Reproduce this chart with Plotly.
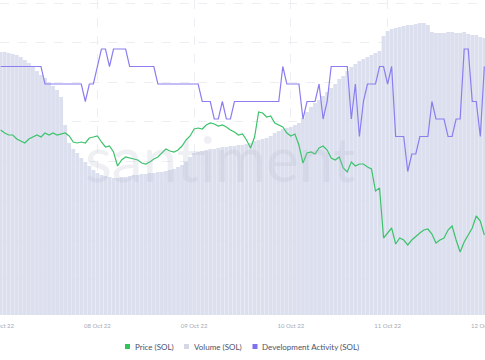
import pandas as pd
import plotly.graph_objects as go

# hourly timestamps, 07 Oct 2022 00:00 -> 12 Oct 2022 00:00
times = pd.date_range("2022-10-07 00:00", periods=121, freq="h")

price = [
    33.40, 33.34, 33.30, 33.30, 33.22, 33.18, 33.14, 33.22, 33.26, 33.30,
    33.26, 33.34, 33.30, 33.34, 33.30, 33.32, 33.34, 33.28, 33.16, 33.14,
    33.16, 33.14, 33.24, 33.26, 33.28, 33.16, 33.06, 33.08, 32.96, 32.68,
    32.80, 32.86, 32.84, 32.82, 32.80, 32.74, 32.72, 32.76, 32.82, 32.86,
    32.94, 33.02, 32.98, 32.96, 33.00, 33.08, 33.20, 33.28, 33.42, 33.44,
    33.42, 33.50, 33.54, 33.52, 33.48, 33.50, 33.46, 33.40, 33.36, 33.30,
    33.32, 33.20, 33.04, 33.26, 33.76, 33.74, 33.66, 33.68, 33.54, 33.50,
    33.46, 33.34, 33.28, 33.32, 33.10, 32.74, 32.94, 32.96, 32.92, 33.04,
    33.08, 33.00, 32.84, 32.80, 32.86, 32.64, 32.56, 32.76, 32.68, 32.72,
    32.72, 32.66, 32.62, 32.18, 32.24, 31.24, 31.34, 31.44, 31.12, 31.24,
    31.20, 31.10, 31.20, 31.28, 31.34, 31.40, 31.42, 31.32, 31.14, 31.20,
    31.24, 31.40, 31.48, 31.20, 30.96, 31.16, 31.30, 31.44, 31.68, 31.58,
    31.30,
]

volume = [
    789, 789, 786, 783, 780, 774, 765, 756, 744, 732,
    720, 711, 699, 687, 675, 654, 570, 516, 498, 486,
    471, 459, 447, 435, 426, 420, 417, 414, 411, 411,
    414, 414, 417, 420, 420, 423, 423, 426, 426, 429,
    429, 432, 435, 438, 444, 450, 459, 474, 486, 489,
    492, 495, 498, 498, 501, 504, 504, 507, 507, 510,
    510, 513, 516, 522, 525, 528, 531, 537, 546, 552,
    558, 561, 564, 570, 576, 591, 609, 624, 636, 645,
    657, 669, 681, 693, 708, 717, 732, 744, 753, 762,
    768, 774, 780, 786, 792, 837, 852, 858, 861, 864,
    867, 870, 870, 873, 876, 876, 870, 849, 846, 846,
    846, 849, 849, 846, 846, 849, 843, 840, 840, 834,
    831,
]

dev_activity = [
    26, 26, 26, 26, 26, 26, 26, 26, 26, 26,
    26, 25, 25, 25, 25, 25, 25, 25, 25, 25,
    25, 24, 25, 25, 26, 27, 27, 26, 27, 27,
    27, 27, 26, 26, 26, 26, 26, 26, 26, 25,
    25, 25, 25, 25, 25, 25, 25, 25, 25, 25,
    24, 24, 24, 23, 23, 24, 23, 23, 24, 24,
    24, 24, 24, 24, 24, 24, 24, 24, 24, 24,
    26, 25, 25, 25, 25, 23, 24, 24, 24, 25,
    23, 24, 26, 26, 26, 26, 26, 23, 25, 22,
    24, 25, 25, 25, 26, 26, 25, 26, 22, 22,
    22, 20, 21, 21, 22, 22, 22, 24, 23, 23,
    23, 22, 22, 23, 23, 27, 27, 24, 24, 22,
    26,
]

legend_labels = ["Price (SOL)", "Volume (SOL)", "Development Activity (SOL)"]

GREEN = "#3cc36b"
VOL = "#dcdfee"
PURPLE = "#8a7ef0"
LEG_COLORS = ["#33c35d", "#d6d8e6", "#7f70f0"]

W, H, PLOT_H = 485, 360, 315

fig = go.Figure()
fig.add_trace(go.Bar(x=times, y=volume, marker=dict(color=VOL, line=dict(width=0)),
                     yaxis="y", showlegend=False, hoverinfo="skip", name=legend_labels[1]))
fig.add_trace(go.Scatter(x=times, y=price, mode="lines", line=dict(color=GREEN, width=1.2),
                         yaxis="y2", showlegend=False, name=legend_labels[0]))
fig.add_trace(go.Scatter(x=times, y=dev_activity, mode="lines", line=dict(color=PURPLE, width=1.2),
                         yaxis="y3", showlegend=False, name=legend_labels[2]))

# manual compact legend (square swatch + label)
sw_x = [125, 184, 252.5]
txt_x = [132.5, 191.5, 259.5]
for lab, col, sx, tx in zip(legend_labels, LEG_COLORS, sw_x, txt_x):
    fig.add_shape(type="rect", xref="paper", yref="paper",
                  x0=sx / W, x1=(sx + 5) / W,
                  y0=(PLOT_H - 349) / PLOT_H, y1=(PLOT_H - 344) / PLOT_H,
                  fillcolor=col, line=dict(width=0))
    fig.add_annotation(text=lab, x=tx / W, y=(PLOT_H - 346.5) / PLOT_H, xref="paper", yref="paper",
                       xanchor="left", yanchor="middle", showarrow=False,
                       font=dict(family="Lato", size=8, color="#4d5268"))

fig.add_annotation(text="santiment", x=220 / W, y=(PLOT_H - 158) / PLOT_H, xref="paper", yref="paper",
                   showarrow=False, font=dict(family="Lato", size=62, color="rgba(175,180,198,0.2)"))

fig.update_layout(
    width=W, height=H,
    margin=dict(l=0, r=0, t=0, b=H - PLOT_H, autoexpand=False),
    paper_bgcolor="white", plot_bgcolor="white",
    bargap=0.05,
    showlegend=False,
    xaxis=dict(range=["2022-10-06 23:50", "2022-10-12 00:10"], tickformat="%d %b %y",
               dtick=86400000, tick0="2022-10-07", showgrid=True, gridcolor="#eceef3",
               griddash="dash", gridwidth=1, zeroline=False, showline=False,
               ticks="outside", ticklen=5, tickcolor="rgba(0,0,0,0)",
               ticklabeloverflow="allow", automargin=False,
               tickfont=dict(family="Lato", size=6, color="#a5a9b8")),
    yaxis=dict(range=[0, 945], visible=True, showticklabels=False, showgrid=True,
               gridcolor="#eceef3", griddash="dash", tick0=106.5, dtick=118.5,
               zeroline=False, showline=False, ticks=""),
    yaxis2=dict(range=[29.70, 36.00], overlaying="y", visible=False),
    yaxis3=dict(range=[11.8, 29.8], overlaying="y", visible=False),
)

fig.write_html("out.html", config={"displayModeBar": False},
               post_script="document.body.style.margin='0';document.body.style.padding='0';")
